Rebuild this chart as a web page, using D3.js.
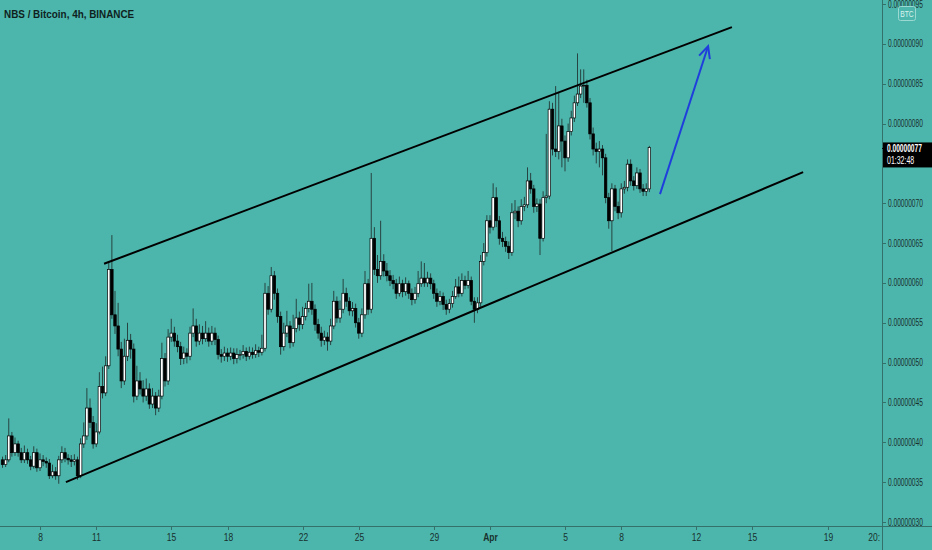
<!DOCTYPE html>
<html><head><meta charset="utf-8">
<script src="https://cdn.jsdelivr.net/npm/d3@7"></script>
<style>html,body{margin:0;padding:0;background:#4db6ac;}svg{display:block;}</style>
</head><body>
<script>
// ---------- DATA (prices in units of 1e-8 BTC) ----------
const title = "NBS / Bitcoin, 4h, BINANCE";
const firstTime = "2021-03-06T00:00:00Z";   // first 4h candle
const candleHours = 4;
const firstOpen = 37.8;
const closes = [
37.2,37.8,40.8,38.7,39.8,38.7,37.8,38.7,37.8,37.0,
38.7,36.8,37.8,37.6,37.4,35.8,36.3,35.8,37.8,38.7,
38.0,37.8,37.6,37.8,35.8,39.8,40.8,44.3,42.5,39.8,
41.3,47.0,46.2,49.6,61.7,56.0,54.6,51.7,47.7,50.8,
52.8,51.7,45.8,47.7,46.7,45.8,46.7,44.8,45.8,44.3,
45.8,50.5,47.7,53.2,53.7,52.7,52.0,50.5,51.2,50.8,
53.7,54.6,52.7,53.7,53.0,53.7,52.7,53.7,52.9,51.0,
50.8,51.2,50.8,51.2,50.5,51.0,51.0,51.4,50.8,51.3,
51.0,51.5,51.3,51.8,58.7,56.7,60.9,58.7,55.8,52.0,
53.7,54.6,52.5,54.3,55.6,54.8,55.8,56.8,57.7,56.7,
54.8,53.7,52.8,53.2,52.7,54.6,57.7,55.6,56.7,58.7,
57.7,56.5,56.8,55.0,53.7,56.0,59.9,56.7,65.6,61.7,
60.9,62.7,61.5,60.9,60.3,59.9,58.7,59.9,58.9,59.9,
58.7,57.9,58.7,59.9,60.6,60.0,60.6,59.9,58.7,57.7,
58.3,57.3,56.7,57.4,58.3,59.5,58.7,60.3,59.7,60.3,
57.7,56.7,57.5,62.7,63.8,67.8,67.0,70.7,67.8,65.6,
65.2,64.6,63.8,68.8,69.0,67.8,69.6,69.8,72.8,71.8,
69.6,69.9,65.6,70.7,70.9,81.8,76.8,76.5,79.7,77.8,
75.7,79.0,80.7,82.6,83.7,84.7,84.8,82.6,78.7,76.8,
76.5,76.8,75.7,70.7,67.8,71.8,69.6,68.8,71.8,72.0,
74.9,72.8,72.2,73.8,71.8,71.5,71.8,77.0];
const highs = [
38.2,38.4,43.0,41.3,40.6,40.2,39.3,39.6,39.2,38.3,
39.5,39.2,38.6,38.4,38.1,37.9,37.2,36.9,38.3,39.5,
39.3,38.5,38.4,38.5,38.2,40.5,42.5,46.8,45.5,43.3,
42.4,48.8,49.5,50.8,62.6,66.0,59.0,57.5,52.6,53.0,
55.0,53.6,52.4,49.6,48.8,47.8,48.0,47.4,46.8,46.3,
46.6,52.5,51.2,54.2,55.5,54.5,53.5,52.6,52.0,51.8,
54.5,56.8,55.5,54.8,54.6,55.2,54.4,54.6,54.4,53.4,
51.7,52.0,51.8,51.9,51.8,51.8,51.6,52.2,51.9,52.0,
51.9,52.3,52.0,53.5,60.0,59.6,62.0,61.5,59.3,56.4,
55.0,56.5,55.2,56.0,58.0,56.4,57.0,57.5,59.9,60.0,
57.3,55.5,54.5,54.0,53.8,55.5,59.0,58.3,57.8,60.5,
59.4,58.2,57.6,57.4,55.6,56.8,61.5,60.5,73.8,67.0,
63.5,67.8,63.6,62.5,61.6,61.0,60.5,60.8,60.4,60.7,
60.3,59.3,59.5,61.5,62.7,62.5,61.4,61.2,60.4,59.3,
59.0,58.8,57.9,58.0,59.0,60.5,60.8,61.2,60.9,61.5,
60.8,58.2,58.2,63.5,65.0,68.5,68.5,72.5,72.0,68.4,
66.4,65.8,65.2,70.0,70.4,69.6,70.5,70.8,74.5,73.8,
72.3,70.6,70.5,71.5,78.7,82.8,82.6,84.7,84.0,80.6,
78.5,80.0,81.6,83.5,88.8,86.8,86.8,85.5,83.2,79.5,
77.6,77.8,77.3,76.2,71.3,72.5,72.3,70.2,72.5,72.8,
75.5,75.5,73.4,74.5,74.3,72.4,72.5,77.2];
const lows = [
36.8,36.9,37.5,38.2,38.3,38.2,37.4,37.4,37.3,36.5,
36.7,36.3,36.4,37.0,36.8,35.4,35.5,35.3,34.8,37.4,
37.5,37.2,36.9,37.1,35.3,35.5,39.3,40.3,41.8,39.2,
39.4,41.0,45.5,45.8,49.2,55.5,53.6,50.8,46.8,47.2,
50.2,50.5,45.0,45.3,46.0,45.0,45.2,44.2,44.3,43.4,
43.8,45.4,47.0,47.2,52.6,52.0,51.3,49.7,49.8,49.9,
50.3,53.2,52.0,52.2,52.3,52.6,52.0,52.2,52.2,50.4,
50.0,50.2,50.1,50.3,49.8,49.9,50.3,50.5,50.2,50.4,
50.5,50.6,50.7,50.9,51.4,56.0,56.3,57.9,55.0,51.0,
51.5,53.2,51.8,52.0,53.8,54.0,54.2,55.3,56.3,56.0,
54.0,53.0,52.0,52.2,51.5,52.2,54.2,55.0,55.0,56.2,
57.0,55.9,55.8,54.4,53.0,53.2,55.5,56.0,56.2,61.0,
60.0,60.4,60.8,60.2,59.6,59.2,58.0,58.3,58.2,58.4,
58.0,57.2,57.4,58.2,59.5,59.5,59.5,59.2,58.0,57.0,
57.2,56.6,56.0,56.2,56.9,58.0,58.2,58.3,59.2,59.3,
57.2,55.0,56.2,57.0,62.2,63.3,66.2,66.6,67.0,64.8,
64.5,63.9,63.0,63.4,68.0,67.0,67.3,69.0,69.4,71.2,
68.8,68.9,63.5,65.2,70.0,70.5,76.0,75.8,75.5,74.5,
74.0,75.2,78.5,80.2,82.2,83.2,82.6,82.0,78.0,76.0,
75.0,74.5,73.5,70.0,66.8,64.0,69.0,68.0,68.2,71.2,
71.5,72.2,71.6,71.8,71.3,70.9,70.9,71.4];

const priceTicks = [30,35,40,45,50,55,60,65,70,75,80,85,90,95];
const hiddenPriceTicks = [75]; // covered by the last-price badge in the reference
const dateTicks = ["2021-03-08","2021-03-11","2021-03-15","2021-03-18","2021-03-22","2021-03-25","2021-03-29","2021-04-01","2021-04-05","2021-04-08","2021-04-12","2021-04-15","2021-04-19"];
const dateTickLabels = ["8","11","15","18","22","25","29","Apr","5","8","12","15","19"];
const upperChannel = [["2021-03-11T10:00:00Z",62.4],["2021-04-13T21:40:00Z",92.1]];
const lowerChannel = [["2021-03-09T09:10:00Z",35.0],["2021-04-17T16:50:00Z",73.9]];
const arrowPath = [["2021-04-10T01:35:00Z",71.15],["2021-04-12T15:10:00Z",89.7]];
const lastPriceLabel = "0.00000077";
const countdownLabel = "01:32:48";
const currencyLabel = "BTC";

// ---------- LAYOUT ----------
const W = 932, H = 550, axisX = 882, axisY = 526;
const bg = "#4db6ac", axisColor = "#35716b", textColor = "#18302d";
const FONT = "'Liberation Sans', Arial, sans-serif";
const svg = d3.select("body").append("svg").attr("width", W).attr("height", H);
svg.append("rect").attr("width", W).attr("height", H).attr("fill", bg);

const x = d3.scaleUtc().domain([new Date("2021-03-08T00:00:00Z"), new Date("2021-04-01T00:00:00Z")]).range([40, 490]);
const y = d3.scaleLinear().domain([30, 95]).range([522, 4]);

const t0 = new Date(firstTime).getTime();
const candles = closes.map((c, i) => ({
  t: new Date(t0 + i * candleHours * 3600e3),
  o: i === 0 ? firstOpen : closes[i - 1], c, h: highs[i], l: lows[i]
}));

svg.append("clipPath").attr("id", "clip").append("rect").attr("x", 0).attr("y", 0).attr("width", axisX).attr("height", axisY);
const pg = svg.append("g").attr("clip-path", "url(#clip)");

// wicks
pg.append("g").selectAll("line").data(candles).join("line")
  .attr("x1", d => x(d.t)).attr("x2", d => x(d.t))
  .attr("y1", d => y(d.h)).attr("y2", d => y(d.l))
  .attr("stroke", "#1a1f1f").attr("stroke-width", 0.9).attr("stroke-opacity", 0.85);
// bodies
const bw = 2.5;
pg.append("g").selectAll("rect").data(candles).join("rect")
  .attr("x", d => x(d.t) - bw / 2)
  .attr("y", d => y(Math.max(d.o, d.c)))
  .attr("width", bw)
  .attr("height", d => Math.max(0.8, Math.abs(y(d.o) - y(d.c))))
  .attr("fill", d => d.c >= d.o ? "#ffffff" : "#000000")
  .attr("stroke", "#000").attr("stroke-width", 0.7);

// channel lines
const line = d3.line().x(d => x(new Date(d[0]))).y(d => y(d[1]));
[upperChannel, lowerChannel].forEach(p => {
  pg.append("path").attr("d", line(p)).attr("fill", "none").attr("stroke", "#000").attr("stroke-width", 2);
});
// blue arrow
const a0 = [x(new Date(arrowPath[0][0])), y(arrowPath[0][1])];
const a1 = [x(new Date(arrowPath[1][0])), y(arrowPath[1][1])];
pg.append("path").attr("d", line(arrowPath)).attr("fill", "none").attr("stroke", "#1f3fdc").attr("stroke-width", 2);
const ang = Math.atan2(a1[1] - a0[1], a1[0] - a0[0]);
const hl = 13, spread = 0.45;
const head = [
  [a1[0] - hl * Math.cos(ang - spread), a1[1] - hl * Math.sin(ang - spread)],
  a1,
  [a1[0] - hl * Math.cos(ang + spread), a1[1] - hl * Math.sin(ang + spread)]
];
pg.append("path").attr("d", d3.line()(head)).attr("fill", "none").attr("stroke", "#1f3fdc").attr("stroke-width", 2).attr("stroke-linejoin", "miter");

// axes lines
svg.append("line").attr("x1", 0).attr("x2", W).attr("y1", axisY + 0.5).attr("y2", axisY + 0.5).attr("stroke", axisColor).attr("stroke-width", 1);
svg.append("line").attr("x1", axisX + 0.5).attr("x2", axisX + 0.5).attr("y1", 0).attr("y2", H).attr("stroke", axisColor).attr("stroke-width", 1);

// narrow text helper (horizontal squeeze via transform)
function narrowText(g, tx, ty, str, sx, size, opts = {}) {
  return g.append("text")
    .attr("transform", `translate(${tx},${ty}) scale(${sx},1)`)
    .attr("x", 0).attr("y", 0).text(str)
    .attr("font-family", FONT).attr("font-size", size)
    .attr("font-weight", opts.weight || "normal")
    .attr("text-anchor", opts.anchor || "start")
    .attr("fill", opts.fill || textColor);
}

// price axis
const fmt = v => (v / 1e8).toFixed(8);
const yg = svg.append("g");
priceTicks.forEach(v => {
  yg.append("line").attr("x1", axisX).attr("x2", axisX + 4).attr("y1", Math.round(y(v)) + 0.5).attr("y2", Math.round(y(v)) + 0.5).attr("stroke", axisColor);
  if (hiddenPriceTicks.includes(v)) return;
  narrowText(yg, axisX + 6, Math.max(y(v) + 3.5, 8), fmt(v), 0.66, 10);
});

// date axis
const xg = svg.append("g");
dateTicks.forEach((d, i) => {
  const px = Math.round(x(new Date(d + "T00:00:00Z"))) + 0.5;
  xg.append("line").attr("x1", px).attr("x2", px).attr("y1", axisY).attr("y2", axisY + 4).attr("stroke", axisColor);
  narrowText(xg, px, 541, dateTickLabels[i], 0.85, 10, {anchor: "middle", weight: dateTickLabels[i] === "Apr" ? "bold" : "normal"});
});
narrowText(xg, 880, 541, "20:", 0.85, 10, {anchor: "end"});

// last price label
const lp = closes[closes.length - 1];
const ly = y(lp);
svg.append("rect").attr("x", axisX + 1).attr("y", ly - 5).attr("width", W - axisX - 1).attr("height", 25).attr("fill", "#000");
svg.append("line").attr("x1", axisX).attr("x2", axisX + 4).attr("y1", ly + 1).attr("y2", ly + 1).attr("stroke", "#000");
narrowText(svg, axisX + 5, ly + 5, lastPriceLabel, 0.66, 10, {weight: "bold", fill: "#fff"});
narrowText(svg, axisX + 5, ly + 17, countdownLabel, 0.7, 10, {fill: "#fff"});

// currency badge
svg.append("rect").attr("x", 898.5).attr("y", 6.5).attr("width", 17).attr("height", 14).attr("rx", 2)
  .attr("fill", bg).attr("stroke", "#9ad8d1").attr("stroke-width", 1);
narrowText(svg, 907, 17, currencyLabel, 0.75, 9, {anchor: "middle", fill: "#d8f2ee"});

// title
narrowText(svg, 4, 18, title, 0.9, 11, {weight: "bold", fill: "#0f1f1e"});
</script>
</body></html>
